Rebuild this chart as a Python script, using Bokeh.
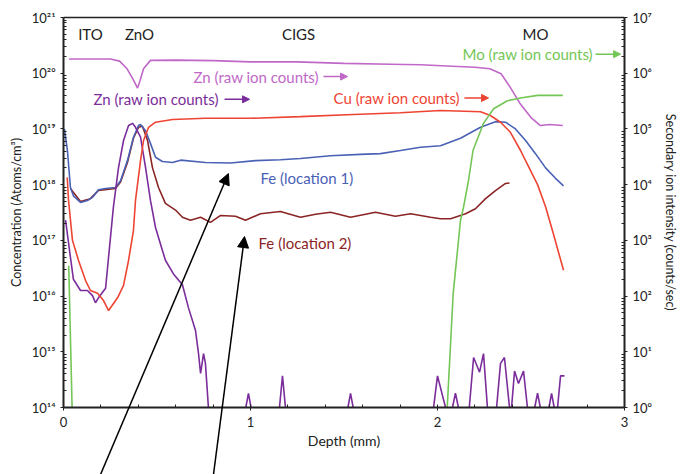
import numpy as np
from bokeh.plotting import figure
from bokeh.models import (Range1d, LogAxis, LinearAxis, LogScale, Label, Arrow, NormalHead,
                          CustomJSTickFormatter, FixedTicker)
from bokeh.embed import file_html
from bokeh.resources import INLINE

NAN = float("nan")

# ---------------- data ----------------
# Zn raw ion counts (counts/sec, right axis)
zn_raw_depth = [0.03, 0.25, 0.30, 0.34, 0.37, 0.396, 0.41, 0.428, 0.465, 0.60, 0.80, 1.00,
                1.25, 1.50, 1.75, 1.91, 2.05, 2.20, 2.28, 2.34, 2.39, 2.44, 2.50, 2.55, 2.60, 2.67]
zn_raw_val = [1.8e6, 1.8e6, 1.65e6, 1.2e6, 8.0e5, 5.4e5, 7.5e5, 1.2e6, 1.7e6, 1.72e6, 1.68e6, 1.6e6,
              1.6e6, 1.5e6, 1.45e6, 1.42e6, 1.35e6, 1.28e6, 1.2e6, 9.8e5, 5.5e5, 2.9e5, 1.6e5, 1.15e5,
              1.2e5, 1.15e5]

# Cu raw ion counts (counts/sec, right axis)
cu_depth = [0.02, 0.027, 0.048, 0.080, 0.118, 0.144, 0.182, 0.214, 0.241, 0.289, 0.321, 0.348,
            0.374, 0.385, 0.412, 0.428, 0.455, 0.492, 0.583, 0.759, 1.0, 1.267, 1.55, 1.802, 2.016,
            2.23, 2.283, 2.337, 2.39, 2.444, 2.497, 2.535, 2.578, 2.62, 2.674]
cu_val = [1.35e4, 5.2e3, 1.0e3, 440, 190, 126, 112, 83, 55, 93, 155, 440,
          1.5e3, 5.2e3, 2.7e4, 6.2e4, 1.07e5, 1.32e5, 1.48e5, 1.55e5, 1.55e5, 1.66e5, 1.82e5, 1.95e5,
          2.14e5, 2.04e5, 1.74e5, 1.32e5, 8.7e4, 4.1e4, 1.8e4, 1.0e4, 4.0e3, 1.3e3, 290]

# Mo raw ion counts (counts/sec, right axis)
mo_depth = [0.028, 0.046, NAN, 2.052, 2.084, 2.123, 2.139, 2.166, 2.19, 2.246, 2.30, 2.374,
            2.444, 2.535, 2.67]
mo_val = [350, 1, NAN, 1, 112, 2300, 3900, 1.2e4, 4.1e4, 1.26e5, 2.3e5, 3.2e5, 3.6e5, 4.0e5, 4.0e5]

# Fe location 1 (atoms/cm3, left axis)
fe1_depth = [0.005, 0.021, 0.037, 0.053, 0.091, 0.128, 0.155, 0.187, 0.225, 0.278, 0.305, 0.342,
             0.374, 0.401, 0.412, 0.439, 0.465, 0.492, 0.529, 0.583, 0.626, 0.759, 0.893, 1.027,
             1.160, 1.267, 1.428, 1.588, 1.695, 1.802, 1.909, 2.016, 2.123, 2.230, 2.310, 2.364,
             2.417, 2.471, 2.524, 2.578, 2.631, 2.674]
fe1_val = [1.0e19, 4.1e18, 8.9e17, 6.3e17, 4.8e17, 5.2e17, 5.9e17, 8.1e17, 8.5e17, 8.9e17, 1.17e18,
           2.7e18, 7.1e18, 1.15e19, 1.2e19, 9.3e18, 5.5e18, 3.1e18, 2.6e18, 2.5e18, 2.75e18, 2.5e18,
           2.45e18, 2.7e18, 2.8e18, 2.95e18, 3.3e18, 3.5e18, 3.6e18, 4.1e18, 4.7e18, 5.0e18, 6.8e18,
           1.07e19, 1.35e19, 1.32e19, 1.0e19, 6.2e18, 3.6e18, 2.0e18, 1.3e18, 9.5e17]

# Fe location 2 (atoms/cm3, left axis)
fe2_depth = [0.037, 0.091, 0.144, 0.187, 0.278, 0.305, 0.342, 0.374, 0.401, 0.422, 0.449, 0.476,
             0.508, 0.545, 0.599, 0.636, 0.679, 0.733, 0.786, 0.840, 0.920, 0.973, 1.053, 1.160,
             1.267, 1.348, 1.428, 1.535, 1.615, 1.668, 1.775, 1.856, 1.963, 2.016, 2.070, 2.150,
             2.203, 2.257, 2.310, 2.364, 2.385]
fe2_val = [8.5e17, 5.0e17, 5.6e17, 7.9e17, 8.5e17, 1.12e18, 2.5e18, 6.8e18, 1.07e19, 1.12e19,
           6.3e18, 2.0e18, 8.9e17, 4.6e17, 3.5e17, 2.6e17, 2.3e17, 2.6e17, 2.1e17, 2.8e17, 2.7e17,
           2.3e17, 3.0e17, 3.3e17, 2.6e17, 2.95e17, 3.2e17, 2.6e17, 2.95e17, 3.2e17, 2.7e17, 3.0e17,
           2.6e17, 2.45e17, 2.45e17, 3.0e17, 3.7e17, 5.6e17, 7.8e17, 1.05e18, 1.07e18]

# Zn concentration (atoms/cm3, left axis)
zn_depth = [0.011, 0.037, 0.053, 0.091, 0.128, 0.155, 0.171, 0.187, 0.225, 0.241, 0.267, 0.294,
            0.321, 0.348, 0.369, 0.385, 0.412, 0.439, 0.465, 0.492, 0.529, 0.545, 0.588, 0.636,
            0.668, 0.706, 0.722, 0.733, 0.749, 0.759, 0.775]
zn_val = [2.3e17, 5.0e16, 2.0e16, 1.26e16, 1.26e16, 1.02e16, 7.6e15, 9.3e15, 1.38e16, 5.0e16,
          4.0e17, 2.0e18, 6.2e18, 1.15e19, 1.26e19, 1.07e19, 7.1e18, 2.0e18, 5.2e17, 1.7e17,
          6.6e16, 4.4e16, 2.5e16, 1.6e16, 6.2e15, 2.4e15, 9.3e14, 4.1e14, 9.3e14, 6.2e14, 1.0e14]

# Zn concentration noise near the detection floor
zn_noise_depth = [0.975, 0.989, 1.003, NAN, 1.155, 1.171, 1.187, NAN, 1.521, 1.535, 1.549, NAN,
                  1.979, 2.0, 2.043, NAN, 2.080, 2.096, 2.112, NAN,
                  2.170, 2.193, 2.225, 2.246, 2.267, NAN, 2.316, 2.337, 2.358, 2.385, NAN,
                  2.396, 2.412, 2.433, 2.460, 2.481, NAN, 2.52, 2.535, 2.55, NAN,
                  2.596, 2.610, 2.624, NAN, 2.642, 2.658, 2.679]
zn_noise_val = [1e14, 1.8e14, 1e14, NAN, 1e14, 3.7e14, 1e14, NAN, 1e14, 1.8e14, 1e14, NAN,
                1e14, 3.7e14, 1e14, NAN, 1e14, 1.8e14, 1e14, NAN,
                1e14, 7.9e14, 4.3e14, 9.3e14, 1e14, NAN, 1e14, 6.2e14, 7.9e14, 1e14, NAN,
                1e14, 4.5e14, 2.7e14, 4.5e14, 1e14, NAN, 1e14, 1.8e14, 1e14, NAN,
                1e14, 1.8e14, 1e14, NAN, 1e14, 3.7e14, 3.7e14]

x_ticks = [0, 1, 2, 3]
left_exponents = [14, 15, 16, 17, 18, 19, 20, 21]
right_exponents = [0, 1, 2, 3, 4, 5, 6, 7]

# ---------------- colours / layout ----------------
C_ZNRAW = "#c068c8"
C_ZN = "#7b2d9b"
C_CU = "#ee4433"
C_FE1 = "#4a62b5"
C_FE2 = "#8b2525"
C_MO = "#74c656"
C_TXT = "#222222"
FONT = "Lato"

W, H = 680, 474
FR_LEFT, FR_RIGHT, FR_TOP, AXIS_Y = 63, 624, 17, 407
x0, x1 = x_ticks[0], x_ticks[-1]
px_per_unit = (FR_RIGHT - FR_LEFT) / (x1 - x0)
px_per_dec = (AXIS_Y - FR_TOP) / (left_exponents[-1] - left_exponents[0])
bot_dec = (H - AXIS_Y) / px_per_dec
top_dec = FR_TOP / px_per_dec

x_lo = x0 - FR_LEFT / px_per_unit
x_hi = x1 + (W - FR_RIGHT) / px_per_unit
y_lo = 10.0 ** (left_exponents[0] - bot_dec)
y_hi = 10.0 ** (left_exponents[-1] + top_dec)
r_lo = 10.0 ** (right_exponents[0] - bot_dec)
r_hi = 10.0 ** (right_exponents[-1] + top_dec)

p = figure(width=W, height=H, x_range=Range1d(x_lo, x_hi), y_range=Range1d(y_lo, y_hi),
           y_axis_type="log", output_backend="svg", toolbar_location=None,
           min_border=0, min_border_left=0, min_border_right=0, min_border_top=0,
           min_border_bottom=0)
p.extra_y_ranges = {"ions": Range1d(r_lo, r_hi)}
p.extra_y_scales = {"ions": LogScale()}
p.xgrid.visible = False
p.ygrid.visible = False
p.outline_line_color = None
p.background_fill_color = "white"
p.border_fill_color = "white"

sup_code = """
const sup = {'0':'\u2070','1':'\u00b9','2':'\u00b2','3':'\u00b3','4':'\u2074','5':'\u2075','6':'\u2076','7':'\u2077','8':'\u2078','9':'\u2079','-':'\u207b'};
const e = Math.round(Math.log10(tick));
return '10' + String(e).split('').map(c => sup[c]).join('');
"""

def minor_list(exps):
    out = []
    for e in exps[:-1]:
        for k in range(2, 10):
            out.append(k * 10.0 ** e)
    return out

def style_axis(ax):
    ax.axis_line_width = 2
    ax.axis_line_color = C_TXT
    ax.major_tick_line_color = C_TXT
    ax.minor_tick_line_color = C_TXT
    ax.major_tick_out = 3
    ax.major_tick_in = 0
    ax.minor_tick_out = 0
    ax.minor_tick_in = 3
    ax.major_label_text_font = FONT
    ax.major_label_text_font_size = "13px"
    ax.major_label_text_color = C_TXT
    ax.axis_label_text_font = FONT
    ax.axis_label_text_font_size = "12.5px"
    ax.axis_label_text_font_style = "normal"
    ax.axis_label_text_color = C_TXT

# left axis (pinned at depth 0)
la = p.yaxis[0]
la.ticker = FixedTicker(ticks=[10.0 ** e for e in left_exponents], minor_ticks=minor_list(left_exponents))
la.formatter = CustomJSTickFormatter(code=sup_code)
la.axis_label = "Concentration (Atoms/cm\u00b3)"
la.bounds = (10.0 ** left_exponents[0], 10.0 ** left_exponents[-1])
la.fixed_location = x0
style_axis(la)
la.major_label_standoff = 5
la.axis_label_standoff = 5

# bottom axis (pinned at the 10^14 level)
xa = p.xaxis[0]
xa.ticker = FixedTicker(ticks=x_ticks, minor_ticks=[i * 0.2 for i in range(16)])
xa.axis_label = "Depth (mm)"
xa.bounds = (x0, x1)
xa.fixed_location = 10.0 ** left_exponents[0]
style_axis(xa)
xa.axis_label_text_font_size = "14px"
xa.major_label_standoff = 6
xa.axis_label_standoff = 2

# right axis (pinned at depth 3)
ra = LogAxis(y_range_name="ions")
ra.ticker = FixedTicker(ticks=[10.0 ** e for e in right_exponents], minor_ticks=minor_list(right_exponents))
ra.formatter = CustomJSTickFormatter(code=sup_code)
ra.axis_label = "Secondary ion intensity (counts/sec)"
ra.bounds = (10.0 ** right_exponents[0], 10.0 ** right_exponents[-1])
ra.fixed_location = x1
style_axis(ra)
ra.major_label_standoff = 5
ra.axis_label_standoff = 8
p.add_layout(ra, "right")

# top frame line (pinned at 10^21)
ta = LinearAxis(ticker=FixedTicker(ticks=[], minor_ticks=[]))
ta.axis_line_width = 1.5
ta.axis_line_color = C_TXT
ta.major_tick_line_color = None
ta.minor_tick_line_color = None
ta.bounds = (x0, x1)
ta.fixed_location = 10.0 ** left_exponents[-1]
p.add_layout(ta, "above")

arr = lambda a: np.array(a, dtype=float)

# ---------------- lines ----------------
p.line(arr(fe2_depth), arr(fe2_val), line_color=C_FE2, line_width=1.6)
p.line(arr(fe1_depth), arr(fe1_val), line_color=C_FE1, line_width=1.6)
p.line(arr(zn_depth), arr(zn_val), line_color=C_ZN, line_width=1.6)
p.line(arr(zn_noise_depth), arr(zn_noise_val), line_color=C_ZN, line_width=1.6)
p.line(arr(cu_depth), arr(cu_val), line_color=C_CU, line_width=1.6, y_range_name="ions")
p.line(arr(zn_raw_depth), arr(zn_raw_val), line_color=C_ZNRAW, line_width=1.6, y_range_name="ions")
p.line(arr(mo_depth), arr(mo_val), line_color=C_MO, line_width=1.6, y_range_name="ions")

# ---------------- labels ----------------
def lab(text, x, y, color, align="left", size="15px"):
    p.add_layout(Label(x=x, y=y, text=text, text_color=color, text_font=FONT,
                       text_font_size=size, text_align=align, text_baseline="middle"))

def small_arrow(xs, xe, y, color):
    p.add_layout(Arrow(x_start=xs, y_start=y, x_end=xe, y_end=y, line_color=color, line_width=1.5,
                       end=NormalHead(size=7, fill_color=color, line_color=color)))

lab("ITO", 0.144, 5.1e20, C_TXT, "center")
lab("ZnO", 0.406, 5.1e20, C_TXT, "center")
lab("CIGS", 1.257, 5.1e20, C_TXT, "center")
lab("MO", 2.524, 5.1e20, C_TXT, "center")

lab("Mo (raw ion counts)", 2.134, 2.2e20, C_MO)
small_arrow(2.845, 2.979, 2.2e20, C_MO)
lab("Zn (raw ion counts)", 0.695, 8.7e19, C_ZNRAW)
small_arrow(1.390, 1.519, 8.7e19, C_ZNRAW)
lab("Zn (raw ion counts)", 0.160, 3.4e19, C_ZN)
small_arrow(0.861, 0.995, 3.4e19, C_ZN)
lab("Cu (raw ion counts)", 1.444, 3.6e19, C_CU)
small_arrow(2.144, 2.273, 3.6e19, C_CU)
lab("Fe (location 1)", 1.053, 1.3e18, C_FE1)
lab("Fe (location 2)", 1.043, 9.1e16, C_FE2)

# long black pointer arrows (starting at the page edge below the plot)
p.add_layout(Arrow(x_start=0.198, y_start=y_lo, x_end=0.882, y_end=1.58e18, line_color="black",
                   line_width=1.5, end=NormalHead(size=11, fill_color="black", line_color="black")))
p.add_layout(Arrow(x_start=0.802, y_start=y_lo, x_end=0.968, y_end=1.17e17, line_color="black",
                   line_width=1.5, end=NormalHead(size=11, fill_color="black", line_color="black")))

open("out.html", "w").write(file_html(p, INLINE))
